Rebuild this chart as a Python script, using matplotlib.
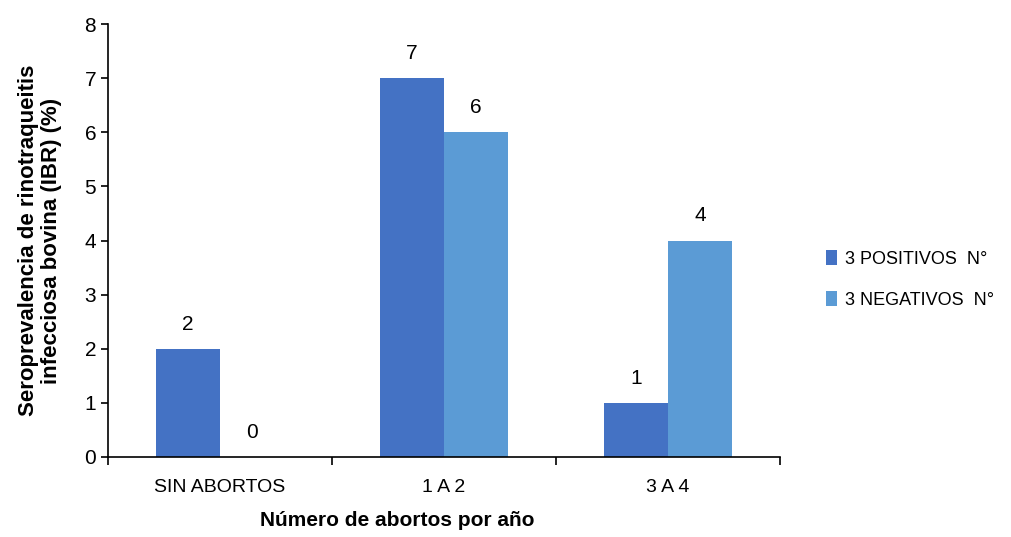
import matplotlib.pyplot as plt
import numpy as np

categorias = ['SIN ABORTOS', '1 A 2', '3 A 4']
positivos = [2, 7, 1]
negativos = [0, 6, 4]
series = ['3 POSITIVOS  N°', '3 NEGATIVOS  N°']

plt.rcParams['font.family'] = ['Liberation Sans Narrow', 'Liberation Sans', 'DejaVu Sans']

fig = plt.figure(figsize=(10.11, 5.37), dpi=100)
ax = fig.add_axes([0.1068, 0.149, 0.6647, 0.806])

x = np.arange(len(categorias))
w = 0.286
b1 = ax.bar(x - w / 2, positivos, w, color='#4472C4', label=series[0])
b2 = ax.bar(x + w / 2, negativos, w, color='#5B9BD5', label=series[1])

for barras in (b1, b2):
    for r in barras:
        ax.text(r.get_x() + r.get_width() / 2, r.get_height() + 0.28,
                str(int(r.get_height())), ha='center', va='bottom', fontsize=15)

ax.set_xlim(-0.5, 2.5)
ax.set_ylim(0, 8)
ax.set_yticks(range(0, 9))
ax.tick_params(axis='y', labelsize=15, length=5, width=1.2)

# tick marks between groups, labels centred under each group
ax.set_xticks(np.arange(-0.5, 3, 1))
ax.set_xticklabels([])
ax.set_xticks(x, minor=True)
ax.set_xticklabels(categorias, minor=True, fontsize=14)
ax.tick_params(axis='x', which='major', length=6, width=1.2)
ax.tick_params(axis='x', which='minor', length=0, pad=16)

for s in ['top', 'right']:
    ax.spines[s].set_visible(False)
for s in ['left', 'bottom']:
    ax.spines[s].set_linewidth(1.2)

ax.set_xlabel('Número de abortos por año', fontsize=15, fontweight='bold')
ax.xaxis.set_label_coords(0.43, -0.125)
ax.set_ylabel('Seroprevalencia de rinotraqueitis\ninfecciosa bovina (IBR) (%)',
              fontsize=16, fontweight='bold', labelpad=16, linespacing=1.15)

ax.legend(loc='center left', bbox_to_anchor=(1.045, 0.41), frameon=False,
          fontsize=13, handlelength=0.6, handleheight=0.9, handletextpad=0.4,
          labelspacing=1.3)

fig.savefig('out.png', dpi=100)
